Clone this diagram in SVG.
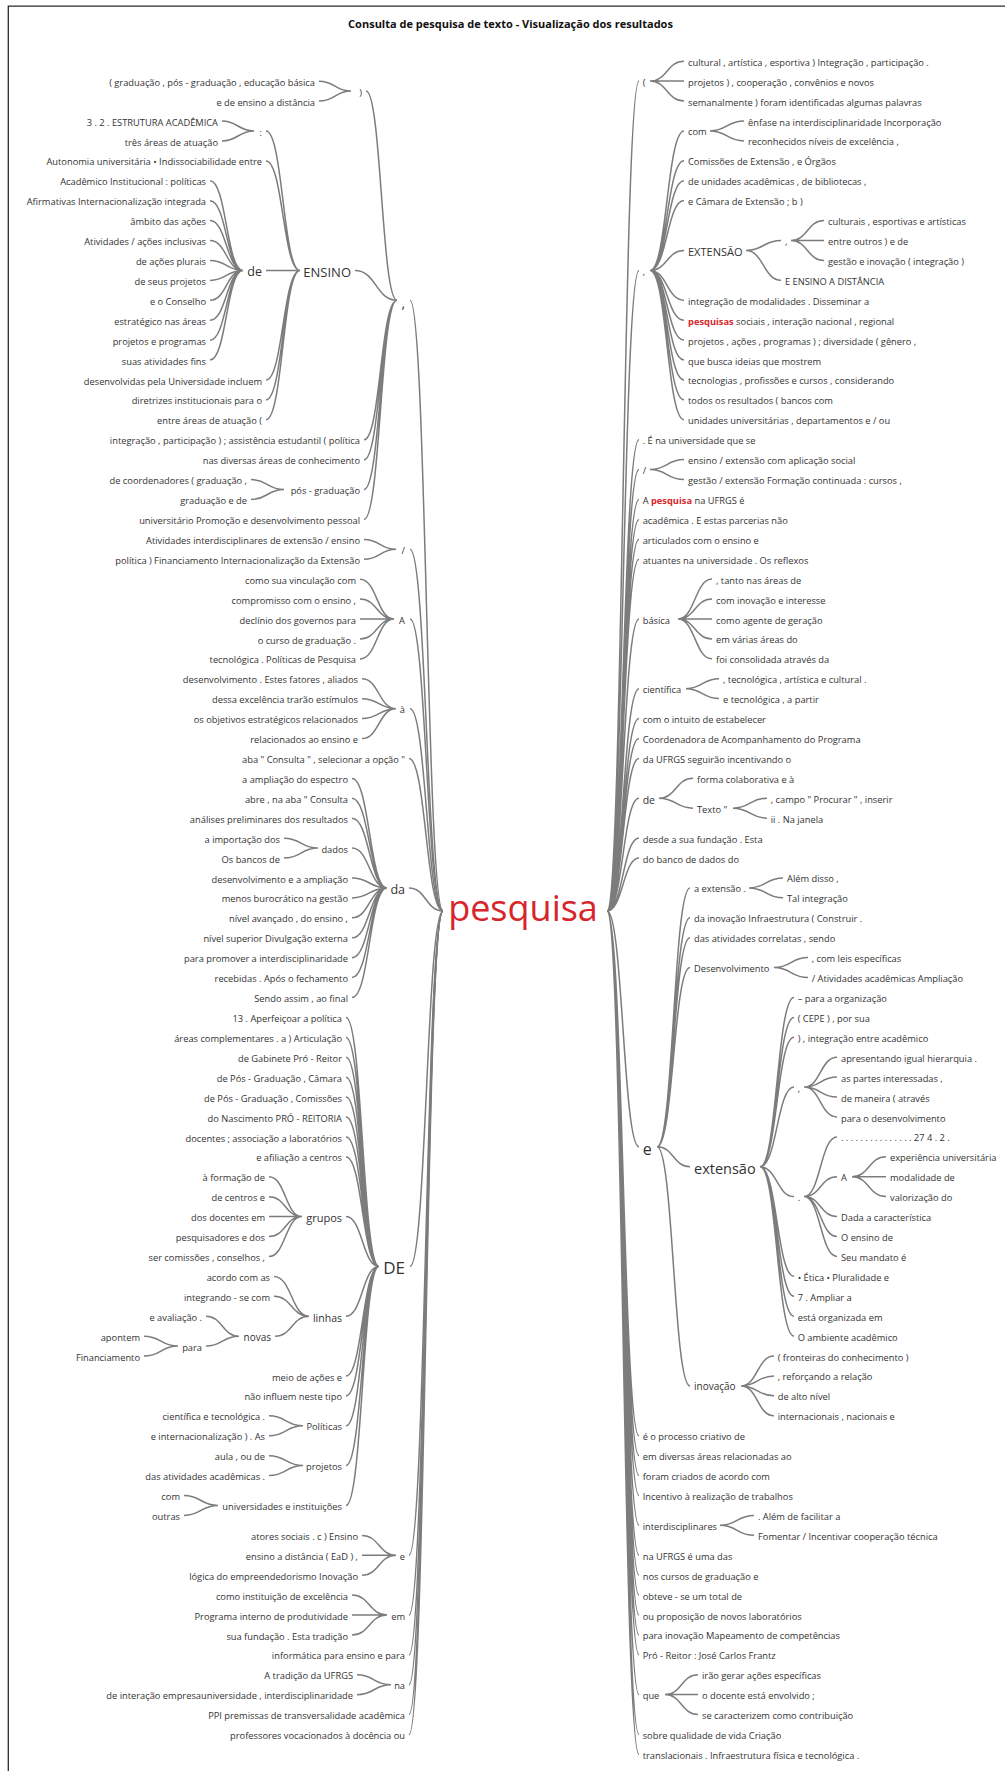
<svg xmlns="http://www.w3.org/2000/svg" width="1005" height="1771" viewBox="0 0 1005 1771">
<style>
text{font-family:"Open Sans","Noto Sans","DejaVu Sans",sans-serif;fill:#333333;font-size:9.3px}
.e{text-anchor:end}
.m{text-anchor:middle}
.red{fill:#d7262b;font-weight:bold}
#connectors path{fill:none;stroke:#7c7c7c;stroke-width:1.5}
.frame{stroke:#2a2a2a;stroke-width:1.3;fill:none}
</style>
<rect width="1005" height="1771" fill="#ffffff"/>
<path class="frame" d="M8.3 1771V6.2H1005"/>
<text x="510.5" y="28" class="m" style="font-size:11px;font-weight:bold;fill:#111">Consulta de pesquisa de texto - Visualização dos resultados</text>

<g id="connectors" transform="translate(0,-1.5)">
<path d="M319 82.7C335 82.7 335 92.6 351 92.6M319 102.6C335 102.6 335 92.6 351 92.6M366 92.6C381.5 92.6 381.5 301.8 397 301.8"/>
<path d="M222 122.5C238 122.5 238 132.5 254 132.5M222 142.5C238 142.5 238 132.5 254 132.5M266 132.5C283 132.5 283 271.9 300 271.9M266 162.4C283 162.4 283 271.9 300 271.9"/>
<path d="M210 182.3C226.5 182.3 226.5 271.9 243 271.9M210 202.2C226.5 202.2 226.5 271.9 243 271.9M210 222.1C226.5 222.1 226.5 271.9 243 271.9M210 242.1C226.5 242.1 226.5 271.9 243 271.9M210 262C226.5 262 226.5 271.9 243 271.9M210 281.9C226.5 281.9 226.5 271.9 243 271.9M210 301.8C226.5 301.8 226.5 271.9 243 271.9M210 321.7C226.5 321.7 226.5 271.9 243 271.9M210 341.7C226.5 341.7 226.5 271.9 243 271.9M210 361.6C226.5 361.6 226.5 271.9 243 271.9"/>
<path d="M266 271.9H300M266 381.5C283 381.5 283 271.9 300 271.9M266 401.4C283 401.4 283 271.9 300 271.9M266 421.3C283 421.3 283 271.9 300 271.9"/>
<path d="M355 271.9C376 271.9 376 301.8 397 301.8M364 441.3C380.5 441.3 380.5 301.8 397 301.8M364 461.2C380.5 461.2 380.5 301.8 397 301.8M251 481.1C267.5 481.1 267.5 491 284 491M251 501C267.5 501 267.5 491 284 491M364 491C380.5 491 380.5 301.8 397 301.8M364 520.9C380.5 520.9 380.5 301.8 397 301.8"/>
<path d="M410 301.8C426.5 301.8 426.5 912.5 443 912.5"/>
<path d="M364 540.9C380 540.9 380 550.8 396 550.8M364 560.8C380 560.8 380 550.8 396 550.8M410 550.8C426.5 550.8 426.5 912.5 443 912.5"/>
<path d="M360 580.7C377 580.7 377 620.5 394 620.5M360 600.6C377 600.6 377 620.5 394 620.5M360 620.5H394M360 640.5C377 640.5 377 620.5 394 620.5M360 660.4C377 660.4 377 620.5 394 620.5M410 620.5C426.5 620.5 426.5 912.5 443 912.5"/>
<path d="M362 680.3C379 680.3 379 710.2 396 710.2M362 700.2C379 700.2 379 710.2 396 710.2M362 720.1C379 720.1 379 710.2 396 710.2M362 740.1C379 740.1 379 710.2 396 710.2M410 710.2C426.5 710.2 426.5 912.5 443 912.5"/>
<path d="M409 760C426 760 426 912.5 443 912.5"/>
<path d="M284 839.7C301 839.7 301 849.6 318 849.6M284 859.6C301 859.6 301 849.6 318 849.6"/>
<path d="M352 779.9C369.5 779.9 369.5 889.5 387 889.5M352 799.8C369.5 799.8 369.5 889.5 387 889.5M352 819.7C369.5 819.7 369.5 889.5 387 889.5M352 849.6C369.5 849.6 369.5 889.5 387 889.5M352 879.5C369.5 879.5 369.5 889.5 387 889.5M352 899.4C369.5 899.4 369.5 889.5 387 889.5M352 919.3C369.5 919.3 369.5 889.5 387 889.5M352 939.3C369.5 939.3 369.5 889.5 387 889.5M352 959.2C369.5 959.2 369.5 889.5 387 889.5M352 979.1C369.5 979.1 369.5 889.5 387 889.5M352 999C369.5 999 369.5 889.5 387 889.5M409 889.5C426 889.5 426 912.5 443 912.5"/>
<path d="M346 1018.9C362.5 1018.9 362.5 1267.9 379 1267.9M346 1038.9C362.5 1038.9 362.5 1267.9 379 1267.9M346 1058.8C362.5 1058.8 362.5 1267.9 379 1267.9M346 1078.7C362.5 1078.7 362.5 1267.9 379 1267.9M346 1098.6C362.5 1098.6 362.5 1267.9 379 1267.9M346 1118.5C362.5 1118.5 362.5 1267.9 379 1267.9M346 1138.5C362.5 1138.5 362.5 1267.9 379 1267.9M346 1158.4C362.5 1158.4 362.5 1267.9 379 1267.9M346 1218.1C362.5 1218.1 362.5 1267.9 379 1267.9M346 1317.7C362.5 1317.7 362.5 1267.9 379 1267.9M346 1377.5C362.5 1377.5 362.5 1267.9 379 1267.9M346 1397.4C362.5 1397.4 362.5 1267.9 379 1267.9M346 1427.3C362.5 1427.3 362.5 1267.9 379 1267.9M346 1467.1C362.5 1467.1 362.5 1267.9 379 1267.9M346 1507C362.5 1507 362.5 1267.9 379 1267.9"/>
<path d="M269 1178.3C285.5 1178.3 285.5 1218.1 302 1218.1M269 1198.2C285.5 1198.2 285.5 1218.1 302 1218.1M269 1218.1H302M269 1238.1C285.5 1238.1 285.5 1218.1 302 1218.1M269 1258C285.5 1258 285.5 1218.1 302 1218.1"/>
<path d="M274 1277.9C291.5 1277.9 291.5 1317.7 309 1317.7M274 1297.8C291.5 1297.8 291.5 1317.7 309 1317.7M275 1337.7C292 1337.7 292 1317.7 309 1317.7M206 1317.7C222.5 1317.7 222.5 1337.7 239 1337.7M206 1347.6C222.5 1347.6 222.5 1337.7 239 1337.7M144 1337.7C161 1337.7 161 1347.6 178 1347.6M144 1357.6C161 1357.6 161 1347.6 178 1347.6"/>
<path d="M269 1417.3C286 1417.3 286 1427.3 303 1427.3M269 1437.3C286 1437.3 286 1427.3 303 1427.3M269 1457.2C286 1457.2 286 1467.1 303 1467.1M269 1477.1C286 1477.1 286 1467.1 303 1467.1M184 1497C201 1497 201 1507 218 1507M184 1516.9C201 1516.9 201 1507 218 1507"/>
<path d="M410 1267.9C426.5 1267.9 426.5 912.5 443 912.5"/>
<path d="M362 1536.9C379 1536.9 379 1556.8 396 1556.8M362 1556.8H396M362 1576.7C379 1576.7 379 1556.8 396 1556.8M409 1556.8C426 1556.8 426 912.5 443 912.5"/>
<path d="M352 1596.6C369.5 1596.6 369.5 1616.5 387 1616.5M352 1616.5H387M352 1636.5C369.5 1636.5 369.5 1616.5 387 1616.5M409 1616.5C426 1616.5 426 912.5 443 912.5"/>
<path d="M409 1656.4C426 1656.4 426 912.5 443 912.5"/>
<path d="M357 1676.3C374 1676.3 374 1686.3 391 1686.3M357 1696.2C374 1696.2 374 1686.3 391 1686.3M409 1686.3C426 1686.3 426 912.5 443 912.5"/>
<path d="M409 1716.1C426 1716.1 426 912.5 443 912.5M409 1736.1C426 1736.1 426 912.5 443 912.5"/>
<path d="M607 912.5C623 912.5 623 82.6 639 82.6M607 912.5C623 912.5 623 271.9 639 271.9M607 912.5C623 912.5 623 441.2 639 441.2M607 912.5C623 912.5 623 471.1 639 471.1M607 912.5C623 912.5 623 500.9 639 500.9M607 912.5C623 912.5 623 520.9 639 520.9M607 912.5C623 912.5 623 540.8 639 540.8M607 912.5C623 912.5 623 560.7 639 560.7M607 912.5C623 912.5 623 620.5 639 620.5M607 912.5C623 912.5 623 690.2 639 690.2M607 912.5C623 912.5 623 720.1 639 720.1M607 912.5C623 912.5 623 740 639 740M607 912.5C623 912.5 623 759.9 639 759.9M607 912.5C623 912.5 623 799.7 639 799.7M607 912.5C623 912.5 623 839.6 639 839.6M607 912.5C623 912.5 623 859.5 639 859.5"/>
<path d="M607 912.5C623 912.5 623 1148.3 639 1148.3M607 912.5C623 912.5 623 1437.2 639 1437.2M607 912.5C623 912.5 623 1457.1 639 1457.1M607 912.5C623 912.5 623 1477 639 1477M607 912.5C623 912.5 623 1496.9 639 1496.9M607 912.5C623 912.5 623 1526.8 639 1526.8M607 912.5C623 912.5 623 1556.7 639 1556.7M607 912.5C623 912.5 623 1576.6 639 1576.6M607 912.5C623 912.5 623 1596.5 639 1596.5M607 912.5C623 912.5 623 1616.5 639 1616.5M607 912.5C623 912.5 623 1636.4 639 1636.4M607 912.5C623 912.5 623 1656.3 639 1656.3M607 912.5C623 912.5 623 1696.1 639 1696.1M607 912.5C623 912.5 623 1736 639 1736M607 912.5C623 912.5 623 1755.9 639 1755.9"/>
<path d="M650 82.6C667 82.6 667 62.7 684 62.7M650 82.6H684M650 82.6C667 82.6 667 102.5 684 102.5"/>
<path d="M650 271.9C667 271.9 667 132.4 684 132.4M650 271.9C667 271.9 667 162.3 684 162.3M650 271.9C667 271.9 667 182.2 684 182.2M650 271.9C667 271.9 667 202.1 684 202.1M650 271.9C667 271.9 667 252 684 252M650 271.9C667 271.9 667 301.7 684 301.7M650 271.9C667 271.9 667 321.7 684 321.7M650 271.9C667 271.9 667 341.6 684 341.6M650 271.9C667 271.9 667 361.5 684 361.5M650 271.9C667 271.9 667 381.4 684 381.4M650 271.9C667 271.9 667 401.3 684 401.3M650 271.9C667 271.9 667 421.3 684 421.3"/>
<path d="M710 132.4C727 132.4 727 122.5 744 122.5M710 132.4C727 132.4 727 142.4 744 142.4"/>
<path d="M746 252C763.5 252 763.5 242 781 242M746 252C763.5 252 763.5 281.8 781 281.8M791 242C807.5 242 807.5 222.1 824 222.1M791 242H824M791 242C807.5 242 807.5 261.9 824 261.9"/>
<path d="M650 471.1C667 471.1 667 461.1 684 461.1M650 471.1C667 471.1 667 481 684 481"/>
<path d="M678 620.5C695 620.5 695 580.6 712 580.6M678 620.5C695 620.5 695 600.5 712 600.5M678 620.5H712M678 620.5C695 620.5 695 640.4 712 640.4M678 620.5C695 620.5 695 660.3 712 660.3"/>
<path d="M686 690.2C702.5 690.2 702.5 680.2 719 680.2M686 690.2C702.5 690.2 702.5 700.1 719 700.1"/>
<path d="M659 799.7C676 799.7 676 779.8 693 779.8M659 799.7C676 799.7 676 809.7 693 809.7M733 809.7C750 809.7 750 799.7 767 799.7M733 809.7C750 809.7 750 819.7 767 819.7"/>
<path d="M657 1148.3C673.5 1148.3 673.5 889.4 690 889.4M657 1148.3C673.5 1148.3 673.5 919.3 690 919.3M657 1148.3C673.5 1148.3 673.5 939.2 690 939.2M657 1148.3C673.5 1148.3 673.5 969.1 690 969.1M657 1148.3C673.5 1148.3 673.5 1168.3 690 1168.3M657 1148.3C673.5 1148.3 673.5 1387.4 690 1387.4"/>
<path d="M749 889.4C766 889.4 766 879.4 783 879.4M749 889.4C766 889.4 766 899.3 783 899.3M774 969.1C791 969.1 791 959.1 808 959.1M774 969.1C791 969.1 791 979 808 979"/>
<path d="M760 1168.3C777 1168.3 777 998.9 794 998.9M760 1168.3C777 1168.3 777 1018.9 794 1018.9M760 1168.3C777 1168.3 777 1038.8 794 1038.8M760 1168.3C777 1168.3 777 1088.6 794 1088.6M760 1168.3C777 1168.3 777 1198.1 794 1198.1M760 1168.3C777 1168.3 777 1277.8 794 1277.8M760 1168.3C777 1168.3 777 1297.7 794 1297.7M760 1168.3C777 1168.3 777 1317.7 794 1317.7M760 1168.3C777 1168.3 777 1337.6 794 1337.6"/>
<path d="M804 1088.6C820.5 1088.6 820.5 1058.7 837 1058.7M804 1088.6C820.5 1088.6 820.5 1078.6 837 1078.6M804 1088.6C820.5 1088.6 820.5 1098.5 837 1098.5M804 1088.6C820.5 1088.6 820.5 1118.5 837 1118.5"/>
<path d="M804 1198.1C820.5 1198.1 820.5 1138.4 837 1138.4M804 1198.1C820.5 1198.1 820.5 1178.2 837 1178.2M804 1198.1C820.5 1198.1 820.5 1218.1 837 1218.1M804 1198.1C820.5 1198.1 820.5 1238 837 1238M804 1198.1C820.5 1198.1 820.5 1257.9 837 1257.9M852 1178.2C869 1178.2 869 1158.3 886 1158.3M852 1178.2H886M852 1178.2C869 1178.2 869 1198.1 886 1198.1"/>
<path d="M741 1387.4C757.5 1387.4 757.5 1357.5 774 1357.5M741 1387.4C757.5 1387.4 757.5 1377.4 774 1377.4M741 1387.4C757.5 1387.4 757.5 1397.3 774 1397.3M741 1387.4C757.5 1387.4 757.5 1417.3 774 1417.3"/>
<path d="M720 1526.8C737 1526.8 737 1516.9 754 1516.9M720 1526.8C737 1526.8 737 1536.8 754 1536.8M665 1696.1C681.5 1696.1 681.5 1676.2 698 1676.2M665 1696.1H698M665 1696.1C681.5 1696.1 681.5 1716.1 698 1716.1"/>
</g>

<g id="root"><text x="523" y="921" class="m" style="font-size:36px;fill:#d7262b">pesquisa</text></g>

<g id="big">
<g id="n-ENSINO"><text x="351" y="276.6" class="e" style="font-size:13px">ENSINO</text></g>
<g id="n-de-ensino"><text x="262" y="276.4" class="e" style="font-size:12.5px">de</text></g>
<g id="n-comma-left"><text x="405" y="308" class="e" style="font-size:14px">,</text></g>
<g id="n-da"><text x="405" y="894" class="e" style="font-size:12.5px">da</text></g>
<g id="n-DE"><text x="405" y="1274" class="e" style="font-size:17px">DE</text></g>
<g id="n-grupos"><text x="342" y="1222.1" class="e" style="font-size:11px">grupos</text></g>
<g id="n-linhas"><text x="342" y="1321.5" class="e" style="font-size:10.5px">linhas</text></g>
<g id="n-novas"><text x="271" y="1341.3" class="e" style="font-size:10px">novas</text></g>
<g id="n-EXTENSAO"><text x="688" y="256" style="font-size:11px">EXTENSÃO</text></g>
<g id="n-de-right"><text x="642.7" y="803.5" style="font-size:10.5px">de</text></g>
<g id="n-e-right"><text x="642.7" y="1155" style="font-size:16px">e</text></g>
<g id="n-extensao"><text x="694" y="1173.5" style="font-size:14.5px">extensão</text></g>
</g>

<g id="left" transform="translate(0,3)">
<g id="L0"><text class="e" x="315" y="82.7">( graduação , pós - graduação , educação básica</text></g>
<g id="L1"><text class="e" x="315" y="102.6">e de ensino a distância</text></g>
<g id="n-paren"><text class="e" x="362" y="92.6">)</text></g>
<g id="L2"><text class="e" x="218" y="122.5">3 . 2 . ESTRUTURA ACADÊMICA</text></g>
<g id="L3"><text class="e" x="218" y="142.5">três áreas de atuação</text></g>
<g id="n-colon"><text class="e" x="262" y="132.5">:</text></g>
<g id="L4"><text class="e" x="262" y="162.4">Autonomia universitária • Indissociabilidade entre</text></g>
<g id="L5"><text class="e" x="206" y="182.3">Acadêmico Institucional : políticas</text></g>
<g id="L6"><text class="e" x="206" y="202.2">Afirmativas Internacionalização integrada</text></g>
<g id="L7"><text class="e" x="206" y="222.1">âmbito das ações</text></g>
<g id="L8"><text class="e" x="206" y="242.1">Atividades / ações inclusivas</text></g>
<g id="L9"><text class="e" x="206" y="262">de ações plurais</text></g>
<g id="L10"><text class="e" x="206" y="281.9">de seus projetos</text></g>
<g id="L11"><text class="e" x="206" y="301.8">e o Conselho</text></g>
<g id="L12"><text class="e" x="206" y="321.7">estratégico nas áreas</text></g>
<g id="L13"><text class="e" x="206" y="341.7">projetos e programas</text></g>
<g id="L14"><text class="e" x="206" y="361.6">suas atividades fins</text></g>
<g id="L15"><text class="e" x="262" y="381.5">desenvolvidas pela Universidade incluem</text></g>
<g id="L16"><text class="e" x="262" y="401.4">diretrizes institucionais para o</text></g>
<g id="L17"><text class="e" x="262" y="421.3">entre áreas de atuação (</text></g>
<g id="L18"><text class="e" x="360" y="441.3">integração , participação ) ; assistência estudantil ( política</text></g>
<g id="L19"><text class="e" x="360" y="461.2">nas diversas áreas de conhecimento</text></g>
<g id="L20"><text class="e" x="247" y="481.1">de coordenadores ( graduação ,</text></g>
<g id="L21"><text class="e" x="247" y="501">graduação e de</text></g>
<g id="n-pos"><text class="e" x="360" y="491">pós - graduação</text></g>
<g id="L22"><text class="e" x="360" y="520.9">universitário Promoção e desenvolvimento pessoal</text></g>
<g id="L23"><text class="e" x="360" y="540.9">Atividades interdisciplinares de extensão / ensino</text></g>
<g id="L24"><text class="e" x="360" y="560.8">política ) Financiamento Internacionalização da Extensão</text></g>
<g id="n-slash-left"><text class="e" x="405" y="550.8">/</text></g>
<g id="L25"><text class="e" x="356" y="580.7">como sua vinculação com</text></g>
<g id="L26"><text class="e" x="356" y="600.6">compromisso com o ensino ,</text></g>
<g id="L27"><text class="e" x="356" y="620.5">declínio dos governos para</text></g>
<g id="L28"><text class="e" x="356" y="640.5">o curso de graduação .</text></g>
<g id="L29"><text class="e" x="356" y="660.4">tecnológica . Políticas de Pesquisa</text></g>
<g id="n-A-left"><text class="e" x="405" y="620.5">A</text></g>
<g id="L30"><text class="e" x="358" y="680.3">desenvolvimento . Estes fatores , aliados</text></g>
<g id="L31"><text class="e" x="358" y="700.2">dessa excelência trarão estímulos</text></g>
<g id="L32"><text class="e" x="358" y="720.1">os objetivos estratégicos relacionados</text></g>
<g id="L33"><text class="e" x="358" y="740.1">relacionados ao ensino e</text></g>
<g id="n-a-grave"><text class="e" x="405" y="710.2">à</text></g>
<g id="L34"><text class="e" x="405" y="760">aba " Consulta " , selecionar a opção "</text></g>
<g id="L35"><text class="e" x="348" y="779.9">a ampliação do espectro</text></g>
<g id="L36"><text class="e" x="348" y="799.8">abre , na aba " Consulta</text></g>
<g id="L37"><text class="e" x="348" y="819.7">análises preliminares dos resultados</text></g>
<g id="L38"><text class="e" x="280" y="839.7">a importação dos</text></g>
<g id="L39"><text class="e" x="280" y="859.6">Os bancos de</text></g>
<g id="n-dados"><text class="e" x="348" y="849.6">dados</text></g>
<g id="L40"><text class="e" x="348" y="879.5">desenvolvimento e a ampliação</text></g>
<g id="L41"><text class="e" x="348" y="899.4">menos burocrático na gestão</text></g>
<g id="L42"><text class="e" x="348" y="919.3">nível avançado , do ensino ,</text></g>
<g id="L43"><text class="e" x="348" y="939.3">nível superior Divulgação externa</text></g>
<g id="L44"><text class="e" x="348" y="959.2">para promover a interdisciplinaridade</text></g>
<g id="L45"><text class="e" x="348" y="979.1">recebidas . Após o fechamento</text></g>
<g id="L46"><text class="e" x="348" y="999">Sendo assim , ao final</text></g>
<g id="L47"><text class="e" x="342" y="1018.9">13 . Aperfeiçoar a política</text></g>
<g id="L48"><text class="e" x="342" y="1038.9">áreas complementares . a ) Articulação</text></g>
<g id="L49"><text class="e" x="342" y="1058.8">de Gabinete Pró - Reitor</text></g>
<g id="L50"><text class="e" x="342" y="1078.7">de Pós - Graduação , Câmara</text></g>
<g id="L51"><text class="e" x="342" y="1098.6">de Pós - Graduação , Comissões</text></g>
<g id="L52"><text class="e" x="342" y="1118.5">do Nascimento PRÓ - REITORIA</text></g>
<g id="L53"><text class="e" x="342" y="1138.5">docentes ; associação a laboratórios</text></g>
<g id="L54"><text class="e" x="342" y="1158.4">e afiliação a centros</text></g>
<g id="L55"><text class="e" x="265" y="1178.3">à formação de</text></g>
<g id="L56"><text class="e" x="265" y="1198.2">de centros e</text></g>
<g id="L57"><text class="e" x="265" y="1218.1">dos docentes em</text></g>
<g id="L58"><text class="e" x="265" y="1238.1">pesquisadores e dos</text></g>
<g id="L59"><text class="e" x="265" y="1258">ser comissões , conselhos ,</text></g>
<g id="L60"><text class="e" x="270" y="1277.9">acordo com as</text></g>
<g id="L61"><text class="e" x="270" y="1297.8">integrando - se com</text></g>
<g id="L62"><text class="e" x="202" y="1317.7">e avaliação .</text></g>
<g id="L63"><text class="e" x="140" y="1337.7">apontem</text></g>
<g id="L64"><text class="e" x="140" y="1357.6">Financiamento</text></g>
<g id="n-para"><text class="e" x="202" y="1347.6">para</text></g>
<g id="L65"><text class="e" x="342" y="1377.5">meio de ações e</text></g>
<g id="L66"><text class="e" x="342" y="1397.4">não influem neste tipo</text></g>
<g id="L67"><text class="e" x="265" y="1417.3">científica e tecnológica .</text></g>
<g id="L68"><text class="e" x="265" y="1437.3">e internacionalização ) . As</text></g>
<g id="n-politicas"><text class="e" x="342" y="1427.3">Políticas</text></g>
<g id="L69"><text class="e" x="265" y="1457.2">aula , ou de</text></g>
<g id="L70"><text class="e" x="265" y="1477.1">das atividades acadêmicas .</text></g>
<g id="n-projetos"><text class="e" x="342" y="1467.1">projetos</text></g>
<g id="L71"><text class="e" x="180" y="1497">com</text></g>
<g id="L72"><text class="e" x="180" y="1516.9">outras</text></g>
<g id="n-universidades"><text class="e" x="342" y="1507">universidades e instituições</text></g>
<g id="L73"><text class="e" x="358" y="1536.9">atores sociais . c ) Ensino</text></g>
<g id="L74"><text class="e" x="358" y="1556.8">ensino a distância ( EaD ) ,</text></g>
<g id="L75"><text class="e" x="358" y="1576.7">lógica do empreendedorismo Inovação</text></g>
<g id="n-e-left"><text class="e" x="405" y="1556.8">e</text></g>
<g id="L76"><text class="e" x="348" y="1596.6">como instituição de excelência</text></g>
<g id="L77"><text class="e" x="348" y="1616.5">Programa interno de produtividade</text></g>
<g id="L78"><text class="e" x="348" y="1636.5">sua fundação . Esta tradição</text></g>
<g id="n-em"><text class="e" x="405" y="1616.5">em</text></g>
<g id="L79"><text class="e" x="405" y="1656.4">informática para ensino e para</text></g>
<g id="L80"><text class="e" x="353" y="1676.3">A tradição da UFRGS</text></g>
<g id="L81"><text class="e" x="353" y="1696.2">de interação empresauniversidade , interdisciplinaridade</text></g>
<g id="n-na"><text class="e" x="405" y="1686.3">na</text></g>
<g id="L82"><text class="e" x="405" y="1716.1">PPI premissas de transversalidade acadêmica</text></g>
<g id="L83"><text class="e" x="405" y="1736.1">professores vocacionados à docência ou</text></g>
</g>

<g id="right" transform="translate(0,3)">
<g id="R0"><text x="688" y="62.7">cultural , artística , esportiva ) Integração , participação .</text></g>
<g id="R1"><text x="688" y="82.6">projetos ) , cooperação , convênios e novos</text></g>
<g id="R2"><text x="688" y="102.5">semanalmente ) foram identificadas algumas palavras</text></g>
<g id="n-paren-open"><text x="642.7" y="82.6">(</text></g>
<g id="R3"><text x="748" y="122.5">ênfase na interdisciplinaridade Incorporação</text></g>
<g id="R4"><text x="748" y="142.4">reconhecidos níveis de excelência ,</text></g>
<g id="n-com"><text x="688" y="132.4">com</text></g>
<g id="R5"><text x="688" y="162.3">Comissões de Extensão , e Órgãos</text></g>
<g id="R6"><text x="688" y="182.2">de unidades acadêmicas , de bibliotecas ,</text></g>
<g id="R7"><text x="688" y="202.1">e Câmara de Extensão ; b )</text></g>
<g id="R8"><text x="828" y="222.1">culturais , esportivas e artísticas</text></g>
<g id="R9"><text x="828" y="242">entre outros ) e de</text></g>
<g id="R10"><text x="828" y="261.9">gestão e inovação ( integração )</text></g>
<g id="n-comma-ext"><text x="785" y="242">,</text></g>
<g id="R11"><text x="785" y="281.8">E ENSINO A DISTÂNCIA</text></g>
<g id="R12"><text x="688" y="301.7">integração de modalidades . Disseminar a</text></g>
<g id="R13"><text x="688" y="321.7"><tspan class="red">pesquisas</tspan> sociais , interação nacional , regional</text></g>
<g id="R14"><text x="688" y="341.6">projetos , ações , programas ) ; diversidade ( gênero ,</text></g>
<g id="R15"><text x="688" y="361.5">que busca ideias que mostrem</text></g>
<g id="R16"><text x="688" y="381.4">tecnologias , profissões e cursos , considerando</text></g>
<g id="R17"><text x="688" y="401.3">todos os resultados ( bancos com</text></g>
<g id="R18"><text x="688" y="421.3">unidades universitárias , departamentos e / ou</text></g>
<g id="n-comma-right"><text x="642.7" y="271.9">,</text></g>
<g id="R19"><text x="642.7" y="441.2">. É na universidade que se</text></g>
<g id="R20"><text x="688" y="461.1">ensino / extensão com aplicação social</text></g>
<g id="R21"><text x="688" y="481">gestão / extensão Formação continuada : cursos ,</text></g>
<g id="n-slash-right"><text x="642.7" y="471.1">/</text></g>
<g id="R22"><text x="642.7" y="500.9">A <tspan class="red">pesquisa</tspan> na UFRGS é</text></g>
<g id="R23"><text x="642.7" y="520.9">acadêmica . E estas parcerias não</text></g>
<g id="R24"><text x="642.7" y="540.8">articulados com o ensino e</text></g>
<g id="R25"><text x="642.7" y="560.7">atuantes na universidade . Os reflexos</text></g>
<g id="R26"><text x="716" y="580.6">, tanto nas áreas de</text></g>
<g id="R27"><text x="716" y="600.5">com inovação e interesse</text></g>
<g id="R28"><text x="716" y="620.5">como agente de geração</text></g>
<g id="R29"><text x="716" y="640.4">em várias áreas do</text></g>
<g id="R30"><text x="716" y="660.3">foi consolidada através da</text></g>
<g id="n-basica"><text x="642.7" y="620.5">básica</text></g>
<g id="R31"><text x="723" y="680.2">, tecnológica , artística e cultural .</text></g>
<g id="R32"><text x="723" y="700.1">e tecnológica , a partir</text></g>
<g id="n-cientifica"><text x="642.7" y="690.2">científica</text></g>
<g id="R33"><text x="642.7" y="720.1">com o intuito de estabelecer</text></g>
<g id="R34"><text x="642.7" y="740">Coordenadora de Acompanhamento do Programa</text></g>
<g id="R35"><text x="642.7" y="759.9">da UFRGS seguirão incentivando o</text></g>
<g id="R36"><text x="697" y="779.8">forma colaborativa e à</text></g>
<g id="R37"><text x="770.7" y="799.7">, campo " Procurar " , inserir</text></g>
<g id="R38"><text x="770.7" y="819.7">ii . Na janela</text></g>
<g id="n-texto"><text x="697" y="809.7">Texto "</text></g>
<g id="R39"><text x="642.7" y="839.6">desde a sua fundação . Esta</text></g>
<g id="R40"><text x="642.7" y="859.5">do banco de dados do</text></g>
<g id="R41"><text x="787" y="879.4">Além disso ,</text></g>
<g id="R42"><text x="787" y="899.3">Tal integração</text></g>
<g id="n-a-extensao"><text x="694" y="889.4">a extensão .</text></g>
<g id="R43"><text x="694" y="919.3">da inovação Infraestrutura ( Construir .</text></g>
<g id="R44"><text x="694" y="939.2">das atividades correlatas , sendo</text></g>
<g id="R45"><text x="811.7" y="959.1">, com leis específicas</text></g>
<g id="R46"><text x="811.7" y="979">/ Atividades acadêmicas Ampliação</text></g>
<g id="n-desenvolvimento"><text x="694" y="969.1">Desenvolvimento</text></g>
<g id="R47"><text x="797.7" y="998.9">– para a organização</text></g>
<g id="R48"><text x="797.7" y="1018.9">( CEPE ) , por sua</text></g>
<g id="R49"><text x="797.7" y="1038.8">) , integração entre acadêmico</text></g>
<g id="R50"><text x="841" y="1058.7">apresentando igual hierarquia .</text></g>
<g id="R51"><text x="841" y="1078.6">as partes interessadas ,</text></g>
<g id="R52"><text x="841" y="1098.5">de maneira ( através</text></g>
<g id="R53"><text x="841" y="1118.5">para o desenvolvimento</text></g>
<g id="n-comma-ext2"><text x="797.7" y="1088.6">,</text></g>
<g id="R54"><text x="841" y="1138.4">. . . . . . . . . . . . . . . 27 4 . 2 .</text></g>
<g id="R55"><text x="890" y="1158.3">experiência universitária</text></g>
<g id="R56"><text x="890" y="1178.2">modalidade de</text></g>
<g id="R57"><text x="890" y="1198.1">valorização do</text></g>
<g id="n-A-right"><text x="841" y="1178.2">A</text></g>
<g id="R58"><text x="841" y="1218.1">Dada a característica</text></g>
<g id="R59"><text x="841" y="1238">O ensino de</text></g>
<g id="R60"><text x="841" y="1257.9">Seu mandato é</text></g>
<g id="n-dot"><text x="797.7" y="1198.1">.</text></g>
<g id="R61"><text x="797.7" y="1277.8">• Ética • Pluralidade e</text></g>
<g id="R62"><text x="797.7" y="1297.7">7 . Ampliar a</text></g>
<g id="R63"><text x="797.7" y="1317.7">está organizada em</text></g>
<g id="R64"><text x="797.7" y="1337.6">O ambiente acadêmico</text></g>
<g id="R65"><text x="777.7" y="1357.5">( fronteiras do conhecimento )</text></g>
<g id="R66"><text x="777.7" y="1377.4">, reforçando a relação</text></g>
<g id="R67"><text x="777.7" y="1397.3">de alto nível</text></g>
<g id="R68"><text x="777.7" y="1417.3">internacionais , nacionais e</text></g>
<g id="n-inovacao"><text x="694" y="1387.4" style="font-size:10px">inovação</text></g>
<g id="R69"><text x="642.7" y="1437.2">é o processo criativo de</text></g>
<g id="R70"><text x="642.7" y="1457.1">em diversas áreas relacionadas ao</text></g>
<g id="R71"><text x="642.7" y="1477">foram criados de acordo com</text></g>
<g id="R72"><text x="642.7" y="1496.9">Incentivo à realização de trabalhos</text></g>
<g id="R73"><text x="758" y="1516.9">. Além de facilitar a</text></g>
<g id="R74"><text x="758" y="1536.8">Fomentar / Incentivar cooperação técnica</text></g>
<g id="n-interdisciplinares"><text x="642.7" y="1526.8">interdisciplinares</text></g>
<g id="R75"><text x="642.7" y="1556.7">na UFRGS é uma das</text></g>
<g id="R76"><text x="642.7" y="1576.6">nos cursos de graduação e</text></g>
<g id="R77"><text x="642.7" y="1596.5">obteve - se um total de</text></g>
<g id="R78"><text x="642.7" y="1616.5">ou proposição de novos laboratórios</text></g>
<g id="R79"><text x="642.7" y="1636.4">para inovação Mapeamento de competências</text></g>
<g id="R80"><text x="642.7" y="1656.3">Pró - Reitor : José Carlos Frantz</text></g>
<g id="R81"><text x="702" y="1676.2">irão gerar ações específicas</text></g>
<g id="R82"><text x="702" y="1696.1">o docente está envolvido ;</text></g>
<g id="R83"><text x="702" y="1716.1">se caracterizem como contribuição</text></g>
<g id="n-que"><text x="642.7" y="1696.1">que</text></g>
<g id="R84"><text x="642.7" y="1736">sobre qualidade de vida Criação</text></g>
<g id="R85"><text x="642.7" y="1755.9">translacionais . Infraestrutura física e tecnológica .</text></g>
</g>
</svg>
